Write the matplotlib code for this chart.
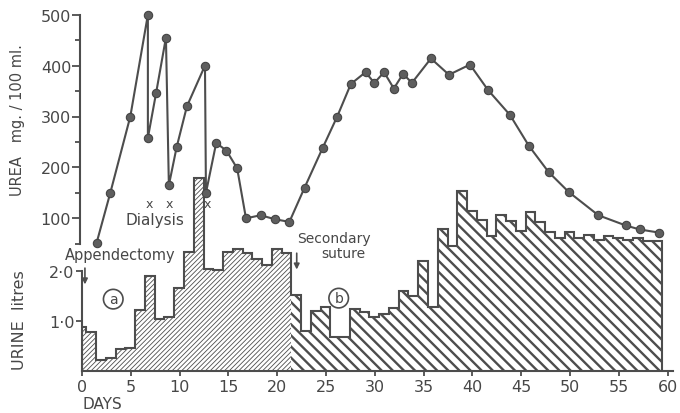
import numpy as np
import matplotlib as mpl
mpl.use("Agg")
import matplotlib.pyplot as plt

# ---- data ----
# daily urine volume (litres); bars are collected from ~0.45 day to 0.45 day
bar_edges = [0, 0.45, 1.45, 2.45, 3.45, 4.45, 5.45, 6.45, 7.45, 8.45, 9.45,
             10.45, 11.45, 12.45, 13.45, 14.45, 15.45, 16.45, 17.45, 18.45,
             19.45, 20.45, 21.45, 22.45, 23.45, 24.45, 25.45, 26.45, 27.45,
             28.45, 29.45, 30.45, 31.45, 32.45, 33.45, 34.45, 35.45, 36.45,
             37.45, 38.45, 39.45, 40.45, 41.45, 42.45, 43.45, 44.45, 45.45,
             46.45, 47.45, 48.45, 49.45, 50.45, 51.45, 52.45, 53.45, 54.45,
             55.45, 56.45, 57.45, 58.45, 59.45]
urine_litres = [0.88, 0.77, 0.21, 0.25, 0.44, 0.45, 1.22, 1.9, 1.04, 1.09,
                1.67, 2.38, 3.87, 2.05, 2.02, 2.38, 2.45, 2.37, 2.25, 2.13,
                2.45, 2.36,
                1.53, 0.8, 1.21, 1.29, 0.67, 0.67, 1.25, 1.18, 1.08, 1.15,
                1.27, 1.6, 1.5, 2.2, 1.28, 2.86, 2.5, 3.61, 3.22, 3.04, 2.71,
                3.14, 3.01, 2.81, 3.2, 3.0, 2.79, 2.66, 2.79, 2.66, 2.74, 2.62,
                2.71, 2.66, 2.63, 2.68, 2.61, 2.61]
n_before_suture = 22   # bars up to the secondary suture (fine hatch)

# blood urea, mg/100 ml
urea_days = [1.5, 2.9, 4.95, 6.75, 6.75, 7.6, 8.6, 8.9, 9.7, 10.75, 12.6,
             12.7, 13.75, 14.8, 15.9, 16.8, 18.3, 19.8, 21.25, 22.8, 24.65,
             26.15, 27.55, 29.05, 29.95, 30.95, 31.95, 32.9, 33.8, 35.75,
             37.6, 39.75, 41.6, 43.85, 45.8, 47.8, 49.85, 52.9, 55.7, 57.15,
             59.1]
urea_mg = [52, 150, 300, 500, 258, 347, 455, 165, 240, 320, 400,
           150, 248, 233, 198, 100, 106, 98, 93, 160, 238,
           300, 364, 387, 366, 387, 355, 384, 366, 414,
           382, 402, 352, 303, 242, 191, 152, 106, 86, 78,
           72]

dialysis_days = [6.9, 8.9, 12.8]

x_ticks = list(range(0, 61, 5))
urea_ticks = [100, 200, 300, 400, 500]
urea_minor = [50, 150, 250, 350, 450]
urine_ticks = [1.0, 2.0]
urine_ticklabels = ["1\u00b70", "2\u00b70"]

# ---- style ----
ink = "#4d4d4d"
txt = "#474747"
W, H = 680, 414
plt.rcParams["font.family"] = "DejaVu Sans"

fig = plt.figure(figsize=(W / 100, H / 100), dpi=100)

# urine axes: day 0 at px 82, 9.76 px per day, baseline at px 371.7, 49.7 px per litre
x_left = 82 / W
x_width = 60.55 * 9.76 / W
ax = fig.add_axes([x_left, (H - 371.7) / H, x_width, 4.0 * 49.7 / H])
ax.set_xlim(0, 60.55)
ax.set_ylim(0, 4.0)
ax.patch.set_visible(False)

# fills (hatch only), then one continuous outline
with mpl.rc_context({"hatch.linewidth": 0.6}):
    p1 = ax.stairs(urine_litres[:n_before_suture], bar_edges[:n_before_suture + 1],
                   fill=True, hatch="///////", facecolor="white",
                   edgecolor=ink, linewidth=0)
with mpl.rc_context({"hatch.linewidth": 1.7}):
    p2 = ax.stairs(urine_litres[n_before_suture:], bar_edges[n_before_suture:],
                   fill=True, hatch="\\\\\\", facecolor="white",
                   edgecolor=ink, linewidth=0)
if hasattr(p1, "set_hatch_linewidth"):
    p1.set_hatch_linewidth(0.6)
    p2.set_hatch_linewidth(1.7)
ax.stairs(urine_litres, bar_edges, fill=False, color=ink, linewidth=1.5,
          baseline=0)

for s in ["top", "right"]:
    ax.spines[s].set_visible(False)
for s in ["left", "bottom"]:
    ax.spines[s].set_color(ink)
    ax.spines[s].set_linewidth(1.5)
ax.spines["left"].set_bounds(0, 2.0)
ax.set_xticks(x_ticks)
ax.set_xticklabels([str(t) for t in x_ticks])
ax.set_yticks(urine_ticks)
ax.set_yticklabels(urine_ticklabels)
ax.tick_params(axis="x", direction="out", length=3.6, width=1.3, color=ink,
               labelsize=11.5, labelcolor=txt, pad=2.5)
ax.tick_params(axis="y", direction="out", length=4.3, width=1.3, color=ink,
               labelsize=11.5, labelcolor=txt, pad=1)

# urea axes: 0 at px 270.2, 50.9 px per 100
ax2 = fig.add_axes([x_left, (H - 270.2) / H, x_width, 525 * 0.509 / H])
ax2.set_xlim(0, 60.55)
ax2.set_ylim(0, 525)
ax2.patch.set_visible(False)
ax2.plot(urea_days, urea_mg, "-o", color=ink, linewidth=1.5, markersize=6,
         markerfacecolor="#5e5e5e", markeredgecolor="#444444",
         markeredgewidth=0.8, clip_on=False)
for s in ["top", "right", "bottom"]:
    ax2.spines[s].set_visible(False)
ax2.spines["left"].set_color(ink)
ax2.spines["left"].set_linewidth(1.5)
ax2.spines["left"].set_position(("outward", 1.5))
ax2.spines["left"].set_bounds(50, 500)
ax2.set_yticks(urea_ticks)
ax2.set_yticks(urea_minor, minor=True)
ax2.tick_params(axis="x", bottom=False, labelbottom=False)
ax2.tick_params(axis="y", which="major", direction="out", length=5.8,
                width=1.3, color=ink, labelsize=11.5, labelcolor=txt, pad=0.5)
ax2.tick_params(axis="y", which="minor", direction="out", length=3.6,
                width=1.3, color=ink)

# dialysis markers
for d in dialysis_days:
    ax2.text(d, 129, "x", ha="center", va="center", fontsize=9, color=txt)
ax2.text(7.5, 97, "Dialysis", ha="center", va="center", fontsize=11,
         color=txt)

# annotations on the urine chart
ax.text(-1.75, 2.33, "Appendectomy", ha="left", va="center", fontsize=10.5,
        color=txt)
ax.annotate("", xy=(0.3, 1.68), xytext=(0.3, 2.12),
            arrowprops=dict(arrowstyle="-|>", color=ink, lw=1.2,
                            mutation_scale=8))
ax.text(3.2, 1.44, "a", ha="center", va="center", fontsize=10, color=txt,
        bbox=dict(boxstyle="circle,pad=0.2", fc="none", ec=ink, lw=1.2))
ax.text(25.8, 2.67, "Secondary", ha="center", va="center", fontsize=10,
        color=txt)
ax.text(26.8, 2.37, "suture", ha="center", va="center", fontsize=10,
        color=txt)
ax.annotate("", xy=(22.0, 1.98), xytext=(22.0, 2.42),
            arrowprops=dict(arrowstyle="-|>", color=ink, lw=1.2,
                            mutation_scale=8))
ax.text(26.3, 1.46, "b", ha="center", va="center", fontsize=10, color=txt,
        bbox=dict(boxstyle="circle,pad=0.2", fc="none", ec=ink, lw=1.2))

# axis titles
fig.text(18 / W, 1 - 120 / H, "UREA   mg. / 100 ml.", rotation=90,
         ha="center", va="center", fontsize=10.5, color=txt)
fig.text(20 / W, 1 - 320 / H, "URINE  litres", rotation=90,
         ha="center", va="center", fontsize=11.5, color=txt)
fig.text(82 / W, 1 - 405 / H, "DAYS", ha="left", va="center", fontsize=11,
         color=txt)

fig.savefig("out.png", dpi=100, facecolor="white")
